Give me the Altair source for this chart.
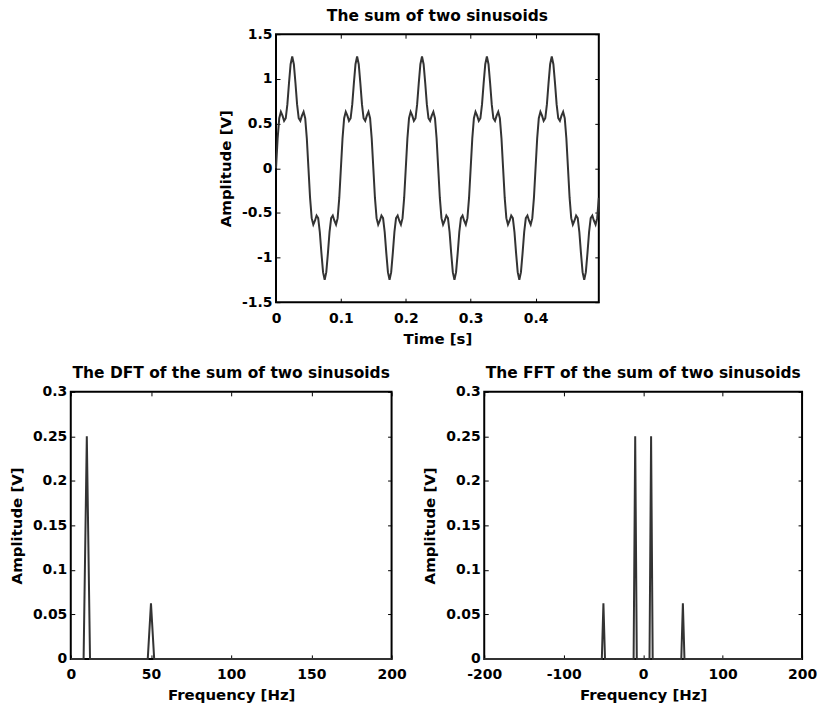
import altair as alt
import pandas as pd

FS = 400  # samples per second of the time record

# Time-domain samples (200 samples)
signal_values = [
    0.000, 0.333, 0.559, 0.631, 0.588, 0.530, 0.559, 0.714, 0.951, 1.164,
    1.250, 1.164, 0.951, 0.714, 0.559, 0.530, 0.588, 0.631, 0.559, 0.333,
    0.000, -0.333, -0.559, -0.631, -0.588, -0.530, -0.559, -0.714, -0.951, -1.164,
    -1.250, -1.164, -0.951, -0.714, -0.559, -0.530, -0.588, -0.631, -0.559, -0.333,
    0.000, 0.333, 0.559, 0.631, 0.588, 0.530, 0.559, 0.714, 0.951, 1.164,
    1.250, 1.164, 0.951, 0.714, 0.559, 0.530, 0.588, 0.631, 0.559, 0.333,
    0.000, -0.333, -0.559, -0.631, -0.588, -0.530, -0.559, -0.714, -0.951, -1.164,
    -1.250, -1.164, -0.951, -0.714, -0.559, -0.530, -0.588, -0.631, -0.559, -0.333,
    0.000, 0.333, 0.559, 0.631, 0.588, 0.530, 0.559, 0.714, 0.951, 1.164,
    1.250, 1.164, 0.951, 0.714, 0.559, 0.530, 0.588, 0.631, 0.559, 0.333,
    0.000, -0.333, -0.559, -0.631, -0.588, -0.530, -0.559, -0.714, -0.951, -1.164,
    -1.250, -1.164, -0.951, -0.714, -0.559, -0.530, -0.588, -0.631, -0.559, -0.333,
    0.000, 0.333, 0.559, 0.631, 0.588, 0.530, 0.559, 0.714, 0.951, 1.164,
    1.250, 1.164, 0.951, 0.714, 0.559, 0.530, 0.588, 0.631, 0.559, 0.333,
    0.000, -0.333, -0.559, -0.631, -0.588, -0.530, -0.559, -0.714, -0.951, -1.164,
    -1.250, -1.164, -0.951, -0.714, -0.559, -0.530, -0.588, -0.631, -0.559, -0.333,
    0.000, 0.333, 0.559, 0.631, 0.588, 0.530, 0.559, 0.714, 0.951, 1.164,
    1.250, 1.164, 0.951, 0.714, 0.559, 0.530, 0.588, 0.631, 0.559, 0.333,
    0.000, -0.333, -0.559, -0.631, -0.588, -0.530, -0.559, -0.714, -0.951, -1.164,
    -1.250, -1.164, -0.951, -0.714, -0.559, -0.530, -0.588, -0.631, -0.559, -0.333,
]
time_values = [n / FS for n in range(len(signal_values))]
time_ticks = [0, 0.1, 0.2, 0.3, 0.4]
signal_ticks = [-1.5, -1, -0.5, 0, 0.5, 1, 1.5]

# One-sided DFT (bottom left)
dft_freq = [0, 8, 10, 12, 48, 50, 52, 200]
dft_amp = [0, 0, 0.25, 0, 0, 0.0625, 0, 0]
dft_ticks = [0, 50, 100, 150, 200]

# Two-sided FFT (bottom right)
fft_freq = [-200, -52, -50, -48, -12, -10, -8, 8, 10, 12, 48, 50, 52, 200]
fft_amp = [0, 0, 0.0625, 0, 0, 0.25, 0, 0, 0.25, 0, 0, 0.0625, 0, 0]
fft_ticks = [-200, -100, 0, 100, 200]

spec_ticks = [0, 0.05, 0.1, 0.15, 0.2, 0.25, 0.3]

FONT = "DejaVu Sans"
INK = "#000000"
LINE = "#333333"


def label_axis(orient, ticks, title, label_pad, title_pad):
    return alt.Axis(
        orient=orient, values=ticks, title=title,
        labelExpr="toString(datum.value)",
        ticks=False, domain=False, grid=False, labelFlush=False,
        labelPadding=label_pad, titlePadding=title_pad,
        labelFont=FONT, labelFontSize=14, labelFontWeight="bold", labelColor=INK,
        titleFont=FONT, titleFontSize=15, titleFontWeight="bold", titleColor=INK,
    )


def tick_axis(orient, ticks, offset):
    return alt.Axis(
        orient=orient, values=ticks, offset=offset, labels=False,
        domain=False, grid=False, ticks=True, tickSize=4, tickWidth=1,
        tickColor=INK, title=None, minExtent=0,
    )


def panel(df, xcol, ycol, xdom, ydom, xticks, yticks, xtitle, ytitle, title, w, h):
    xs = alt.Scale(domain=xdom, nice=False, zero=False)
    ys = alt.Scale(domain=ydom, nice=False, zero=False)
    base = alt.Chart(df)
    trace = base.mark_line(color=LINE, strokeWidth=2).encode(
        x=alt.X(f"{xcol}:Q", scale=xs, axis=label_axis("bottom", xticks, xtitle, 9, 6)),
        y=alt.Y(f"{ycol}:Q", scale=ys, axis=label_axis("left", yticks, ytitle, 4, 8)),
    )
    ticks_a = base.mark_line(opacity=0).encode(
        x=alt.X(f"{xcol}:Q", scale=xs, axis=tick_axis("top", xticks, -h)),
        y=alt.Y(f"{ycol}:Q", scale=ys, axis=tick_axis("right", yticks, -w)),
    )
    ticks_b = base.mark_line(opacity=0).encode(
        x=alt.X(f"{xcol}:Q", scale=xs, axis=tick_axis("bottom", xticks, -h)),
        y=alt.Y(f"{ycol}:Q", scale=ys, axis=tick_axis("left", yticks, -w)),
    )
    return (
        alt.layer(trace, ticks_a, ticks_b)
        .resolve_axis(x="independent", y="independent")
        .properties(
            width=w, height=h,
            title=alt.TitleParams(
                text=title, font=FONT, fontSize=15.5, fontWeight="bold", color=INK,
                anchor="middle", frame="group", baseline="alphabetic", offset=-9,
            ),
            view=alt.ViewBackground(stroke=INK, strokeWidth=2),
        )
    )


time_df = pd.DataFrame({"t": time_values, "v": signal_values})
dft_df = pd.DataFrame({"f": dft_freq, "a": dft_amp})
fft_df = pd.DataFrame({"f": fft_freq, "a": fft_amp})

top = panel(time_df, "t", "v", [0, 0.4975], [-1.5, 1.5], time_ticks, signal_ticks,
            "Time [s]", "Amplitude [V]", "The sum of two sinusoids", 324, 269)
dft = panel(dft_df, "f", "a", [0, 200], [0, 0.3], dft_ticks, spec_ticks,
            "Frequency [Hz]", "Amplitude [V]", "The DFT of the sum of two sinusoids", 322, 268)
fft = panel(fft_df, "f", "a", [-200, 200], [0, 0.3], fft_ticks, spec_ticks,
            "Frequency [Hz]", "Amplitude [V]", "The FFT of the sum of two sinusoids", 319, 268)

# blank cell that pushes the top panel towards the middle
spacer = alt.Chart(pd.DataFrame({"s": [0]})).mark_point(opacity=0).properties(width=147, height=10)

chart = (
    alt.vconcat(
        alt.hconcat(spacer, top, spacing=0),
        alt.hconcat(dft, fft, spacing=14),
        spacing=18,
    )
    .properties(padding={"left": 0, "top": -2, "right": 0, "bottom": 0})
    .configure_view(stroke="transparent")
)

chart.save("out.html", embed_options={"renderer": "svg", "actions": False})
